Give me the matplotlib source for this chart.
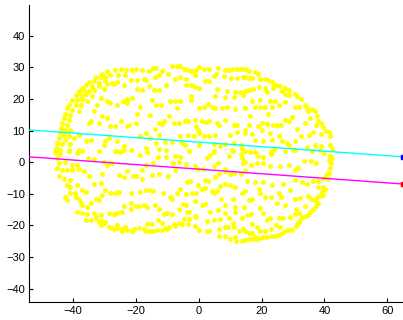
import numpy as np
import matplotlib
matplotlib.use("Agg")
import matplotlib.pyplot as plt

# puntos, por zonas (x, y)
pts_top_left = [
    (-29.1,28.7),(-26.5,29.3),(-24.6,29.6),(-23.1,29.3),(-21.2,29.1),(-19.9,29.4),(-18,29),
    (-30.7,27.9),(-28.1,27.7),(-25.6,27.7),(-23.3,27.5),(-21.7,26.1),(-19.6,26.1),(-17.5,26.4),
    (-32.8,26.8),(-31.2,26.8),(-29.7,26.8),
    (-35,25.4),(-33.4,25.8),(-31.8,25),(-29.9,25.6),(-27.5,25),(-25.9,25.4),(-23.8,24.5),
    (-37.1,23.5),(-36,24.5),(-33.9,24),(-31.8,24),(-29.1,24.7),(-27,24.7),
    (-38.1,22.6),(-36.5,22.9),(-35,22.4),(-33.4,22.9),(-30.2,23.1),(-19.6,23.1),(-18,22.9),
    (-39.2,21.3),(-37.6,21.1),(-36,21.6),(-33.9,20.8),(-31.2,20.3),(-22.8,20.1),(-21.2,20.3),
    (-40.2,19.8),(-38.6,19.8),(-37.1,20.1),(-35.5,19.2),(-29.1,19.2),(-28.1,18.7),(-25.9,18.2),(-24.1,19.2),(-22.8,18.7),
    (-41.3,18.2),(-39.2,18.2),(-37.6,18),(-32.3,18.2),(-18.6,17.3),
    (-41.8,17.1),(-40.2,16.6),(-38.1,16.1),(-33.4,16.3),
    (-42.4,15.2),(-40.8,15),(-30.7,14.5),(-29.1,14),(-19.6,15.2),
    (-42.9,14),(-41.3,13.4),(-35,12.4),(-31.8,12.4),(-28.1,11.6),(-26.5,11.6),(-24.6,12.9),(-22.2,11.8),(-20.1,12.4),
    (-43.4,12.4),(-41.8,11.8),(-34.4,12.9),
    (-43.8,10.8),(-42.4,10.3),(-40.8,10.3),(-22.8,11.3),
    (-44,9.2),(-42.9,8.7),(-41.3,8.2),(-38.1,8.7),
    (-44.5,7.6),(-42.4,7.1),(-39.7,7.6),(-36,6.8),(-34.4,7.1),(-29.7,6.8),(-28.6,7.6),(-25.9,6.6),(-18.6,8.2),
    (-45,6),(-43.4,5.7),(-40.8,5.7),(-30.2,5.5),(-23.8,5),
    (-45.5,4.5),(-44,3.9),(-41.3,3.9),(-38.1,3.9),(-31.8,3.4),(-25.9,3.4),(-23.8,3.9),
    (-45.7,3.1),(-44.5,2.8),
]
pts_top_mid = [
    (-15.8,28.7),(-14.6,29.8),(-13.5,29.8),(-11.8,28.9),(-8.4,30.3),(-6.8,30.3),(-5.8,30.3),(-4.7,29.6),(-3.4,29.3),
    (-2.1,28.7),(-1,29.3),(0.2,30),(1.6,29.6),(3.2,29.6),(6.2,29.8),(8.5,29.3),(9.6,29.3),(10.8,29.6),(12.2,29.6),
    (13.6,29.6),(14.8,29.6),
    (-16.9,26.1),(-13.9,26.8),(-12.7,27.5),(-9.7,27.9),(-7.4,26.4),(-5.8,26.8),(-4.2,26.4),(-1.2,27.5),(1.9,25.8),
    (3.4,25.8),(4.8,27.1),(5.5,27.9),(8,27.1),(10.4,26.6),(12.2,26.6),(14,26.8),
    (-15.8,24),(-14.3,22.9),(-12.7,22.9),(-10.5,24.5),(-4.2,24.5),(-2.6,24.3),(-1.2,23.7),(0.2,23.5),(5.9,23.2),
    (9,22.4),(11.5,22.2),(13,22.2),
    (-15,19.8),(-12.1,18.2),(-13.7,18),(-9,19.2),(-7.4,19.4),(-6.1,19.2),(-2.6,20.8),(-2.6,19.8),(5.3,20.8),
    (8.5,20.5),(11.1,20.5),(14,21.1),
    (-6.8,17.1),(0,17.1),(1.6,17.3),(3,18.4),(4.3,17.6),(5.3,17.1),(7.4,17.1),(9,17.6),(11.5,16.9),(14.8,17.1),
    (-15.6,14.8),(-9.5,14.7),(-11.1,13.1),(-12.7,12.4),(-4.4,13.1),(-3.4,13.1),(-1.2,13.4),(0.9,12.9),(2.4,12.7),
    (3.4,13.1),(5.9,12.4),(6.4,11.8),(8.5,13.4),(11.1,11.8),(12.2,11.8),
    (-13.9,10.6),(-11.6,12.1),(-6.3,12.4),(-7.9,12.4),(-1,11.3),(-0.2,10.3),(1.6,8.2),(3.2,8.2),(5.3,8.5),
    (10.1,8.7),(12.2,9.5),(14.6,10.3),
    (-16.9,9.2),(-15.6,7.6),(-12.5,8.5),(-6.1,8.2),(-3.4,8.5),(-1.6,8.2),(0,9.2),
    (-13.7,6),(-10.8,6.4),(-8.6,6.4),(-5.3,6),(-4.4,5.5),(0,5.5),(4.8,5.7),(6.9,5),(8.3,5.7),(11.1,6),(13.3,5.5),
    (-16.9,4.5),(-12.7,4.3),(-10.5,3.9),(-3.1,3.6),(4.8,3.4),(10.6,3.9),(13.8,4.5),
]
pts_top_right = [
    (15.9,28.9),(17.8,28.5),(19,27.9),(14.8,26.8),(15.9,26.6),(17.1,26.6),(19.6,26.4),(21.1,26.4),(22.2,26.1),
    (23.3,25.4),(24.9,24.5),(25.9,24),(27.5,23.5),(28.6,22.9),
    (14.8,22.4),(16.1,22.9),(17.4,23.2),(19.2,23.7),(21.1,23.5),(21.7,22.2),(23.5,23.5),(24.1,24.3),(26.4,22.6),
    (27.5,21.6),(28.8,21.1),(30.5,21.6),(31.2,20.8),(32.6,20.1),(33.8,18.2),
    (16.9,19.2),(19.6,19.8),(22.7,19.2),(24.3,19.2),(25.4,18),(27.5,19),(30.7,17.3),(31.9,17.3),(34.4,17.1),
    (34.9,16.3),(36,16.9),(37,16.1),
    (14.8,17.1),(18,17.3),(19.6,17.3),(21.1,17.3),(23.3,17.3),
    (16.4,14.5),(22.2,15.2),(27.5,13.4),(28.6,13.1),(29.8,14.2),(33.8,12.4),(35.4,14),(37.6,14.5),(38.1,12.9),
    (16.1,11.8),(19,11.3),(20.1,12.4),(21.7,12.1),(23.5,11.8),(24.9,11.8),(26.2,11.8),(37.2,11.8),(38.9,12.4),(39.7,11),
    (14.8,9.2),(17.1,8.9),(20.1,10.3),(22.7,9.2),(25.4,8.2),(31.2,10.6),(32.6,8.2),(35.1,8.5),(36.5,9.7),(38.9,8.9),
    (40.4,10),(41.3,9.7),(41.8,8.2),
    (18,7.1),(20.6,6.8),(23.3,7.1),(26.4,6.6),(28,6),(28.6,5.3),(30.7,6.8),(34.4,4.7),(37,5.5),(38.9,5),(41.8,5.3),(42.3,4.3),
    (14.8,3.4),(17.8,3.2),(23,3.4),(27.5,3.6),(30.1,3.9),(36,3.4),
]
pts_bot_left = [
    (-45.5,3.1),(-44,2.6),(-41.3,3.4),(-38.6,2.8),(-37.1,3.4),(-35.2,1.3),(-33.4,0.9),(-30.2,0.2),(-28.1,-0.3),
    (-26.5,3.4),(-24.9,3.1),(-21.7,3.7),(-18.6,2.3),
    (-45,1.3),(-44.5,-0.3),(-42.4,0.2),(-40.2,-0.8),(-38.6,-0.8),(-29.1,-0.8),(-27.5,-0.3),
    (-45,-1.9),(-43.4,-2.4),(-41.8,-2.6),(-40.2,-2.4),(-38.1,-2.2),(-36.5,-2.9),(-35,-4.5),(-30.7,-3.7),(-25.4,-4),
    (-23.8,-4.7),(-22.8,-2.9),(-21,-4.5),(-19.9,-4.3),(-18,-2.4),
    (-44.3,-4.5),(-42.9,-5.4),(-41.1,-5.6),(-31.2,-6.6),(-33.4,-6.9),(-18,-5.4),
    (-41.8,-7.2),(-40.8,-7.7),(-38.6,-7.2),(-37.1,-8.8),(-36,-9.3),(-29.7,-8.8),(-28.1,-9.6),(-26.5,-9.8),
    (-25.4,-9.3),(-21.7,-9.8),(-18.6,-9.3),
    (-42.4,-10.9),(-40.8,-9.8),(-39.4,-9.6),(-39.2,-10.9),(-38.1,-11.7),(-32.8,-11.7),(-34.4,-12.8),(-30.7,-10.3),(-31.8,-11.9),
    (-41.8,-11.9),(-37.6,-12.8),(-37.1,-13.5),(-35.5,-14.2),(-23.8,-13.8),(-21.7,-12.8),(-20.1,-14),(-19.1,-13.8),(-17.5,-13.5),
    (-38.6,-15.6),(-37.1,-16.1),(-35.5,-16.4),(-33.4,-16.1),(-32.8,-17.2),(-31.2,-16.7),(-28.6,-16.1),(-27,-16.4),
    (-25.9,-16.1),(-24.4,-15.6),(-21.7,-14.9),
    (-36,-18.3),(-34.4,-18.3),(-32.8,-17.7),(-31.8,-18.8),(-30.9,-18.5),(-29.9,-18.8),(-31.2,-19.8),(-28.6,-20.4),
    (-27.5,-20.9),(-25.9,-20.9),(-25.9,-19.8),(-24.4,-21.2),(-22.8,-21.4),(-21.2,-21.9),(-19.1,-20.9),(-17.5,-21.2),(-23.3,-20.6),
    (-30.2,-19.1),(-27,-21.2),(-24.4,-21.9),(-20.7,-21.2),
]
pts_bot_mid = [
    (-16.4,3.1),(-12.9,1.6),(-10.3,1.8),(-7.6,2),(-5.8,1.6),(-3.1,3.6),(2.7,1.3),(3.7,2.3),(4.8,3.1),(9.6,2),
    (10.8,3.6),(13.3,2.6),(14,-0.1),(13.8,1.3),
    (-16.9,-0.8),(-14.6,-0.3),(-8.2,-0.1),(-6.3,0.2),(-4,-0.5),(-1.2,-1.2),(-0.2,-2.2),(1.3,-2.2),(4.8,-1.2),
    (6.2,-0.3),(8.5,-2.2),(11.1,-3.3),(13.3,-3.7),(14.8,-2.9),
    (-15,-4),(-12.5,-3.7),(-9.7,-4.3),(-7.4,-2.6),(-3.7,-6.4),(-2.9,-5.8),(-0.2,-7.2),(1.9,-5.6),(3,-5.8),
    (5.1,-4.7),(6.6,-3.7),(8.3,-2.9),(10.1,-3.7),
    (-16.9,-8.8),(-15.6,-8.8),(-14.6,-9),(-11.4,-9.8),(-8.6,-11.7),(-9,-10.9),(-6.8,-9.8),(-5.8,-8.5),(-4.2,-10),
    (-2.1,-9.6),(-1,-9.6),(0.9,-8.5),(2.1,-8.2),(4.8,-9.8),(4.3,-9),(5.9,-9),(6.9,-7.5),(8.5,-6.9),(9.8,-7.2),
    (11.7,-7.9),(13.8,-9.6),(14.8,-9),
    (-16.4,-14.2),(-13.9,-13.5),(-12.5,-14.9),(-11.1,-16.4),(-10,-16.1),(-8.6,-16.4),(-6.3,-14.9),(-5.1,-13.2),
    (-4.2,-13.5),(-3.7,-15.6),(-3.1,-15.6),(-1.2,-12.4),(0.9,-13.5),(2.1,-13.2),(3.7,-15.6),(6.2,-15.1),(7.2,-11.7),
    (8.5,-13.5),(8.5,-16.1),(10.8,-11.7),(11.5,-14.2),(11.5,-15.9),(14.3,-14.2),
    (-16.4,-19.5),(-14.8,-19.5),(-12.9,-18.3),(-11.8,-19.1),(-10.8,-20.9),(-9.3,-20.6),(-7.9,-19.5),(-6.3,-19.1),
    (-4.7,-18),(-3.1,-18),(-1.2,-17),(-0.8,-17.4),(2.7,-18.5),(4.8,-18.3),(6.9,-18),(9.6,-17.7),(10.8,-19.1),(13.8,-17.7),
    (-16.9,-21.6),(-15.6,-21.6),(-14.6,-21.9),(-13.2,-21.4),(-11.8,-21.4),(-10,-21.2),(-7.4,-20.2),(-5.3,-19.5),
    (-3.4,-19.5),(-1.2,-20.2),(0,-21.4),(2.7,-21.6),(3.4,-21.9),(6.6,-21.2),(8.5,-20.6),(9.3,-20.6),(11.1,-20.4),
    (12.7,-21.9),(14,-21.2),
    (6.6,-23.3),(8.3,-23.3),(10.1,-24.4),(11.7,-23.7),(13.8,-24.8),(11.9,-24.8),
]
pts_bot_right = [
    (16.4,3.1),(19,2),(20.6,1.6),(23,2.6),(23.8,3.7),(30.7,3.9),(38.6,3.7),(40,2.8),(41.8,2),(42.5,1.3),(41.5,0.7),(42.1,-0.3),
    (14.8,0.2),(16.7,-0.8),(18.5,-0.1),(20.3,-0.1),(22.7,-1.2),(25.9,-1.2),(28.6,-0.8),(33.6,0.5),(35.8,0.5),
    (37.2,-0.3),(31.5,-1.9),(30.5,-2.4),(41.8,-1.9),(41.3,-3.3),(40.4,-4),(41,-5.4),(39.4,-5.1),(37.9,-5.8),
    (15.3,-5.8),(17.8,-6.4),(20.3,-6.4),(23.3,-7.2),(26.7,-6.9),(30.5,-5.6),(33,-6.4),(34.4,-6.9),(36.5,-6.1),
    (39.7,-7.7),(40.2,-8.5),(38.1,-7.9),(39.1,-9.3),
    (19.2,-8.5),(19.5,-9.6),(21.1,-10.9),(23,-10.9),(25.4,-9.8),(26.2,-10.9),(29.1,-8.8),(30.5,-11.7),(32.3,-11.4),
    (34.7,-10.7),(35.8,-11.7),(37.6,-10.9),(38.6,-10.7),(39.7,-10.3),(37,-12.1),(37.9,-12.8),(37.2,-13.8),
    (16.1,-11.9),(17.1,-11.7),(19.6,-14.6),(24.9,-13),(27.5,-13.5),(30.9,-14.9),(33.8,-14),(35.4,-15.6),(36.5,-14.9),
    (34.9,-16.7),(34.1,-17),
    (15.3,-16.7),(16.7,-16.4),(20.3,-16.1),(22.7,-17.7),(21.7,-18.3),(25.6,-17.7),(26.7,-17.7),(29.1,-17.2),
    (30.7,-16.4),(31.9,-16.1),(32.8,-17.2),(32.3,-18.3),(31.2,-19.5),(31.9,-18.8),
    (17.1,-19.5),(18.5,-20.6),(19.6,-21.6),(21.1,-21.9),(23,-21.2),(24.5,-19.8),(25.9,-20.6),(27.3,-21.9),
    (28.3,-21.4),(29.6,-21.4),(30.9,-20.2),
    (14.8,-21.9),(16.1,-22.5),(17.8,-23.7),(19.6,-24.1),(20.6,-23.7),(21.7,-23.7),(23,-23.3),(24.3,-23.3),
    (25.4,-23),(26.4,-22.3),(17.1,-22.3),
    (14.8,-24.6),(15.9,-24.4),(16.9,-24.4),(18.2,-24.4),
]

# rectas (extremos en x y valores en y)
linea_x = [-54, 65]
cyan_y = [10.2, 1.7]
magenta_y = [1.7, -6.9]

xticks = [-40, -20, 0, 20, 40, 60]
yticks = [-40, -30, -20, -10, 0, 10, 20, 30, 40]

plt.rcParams['font.family'] = ['Liberation Sans', 'DejaVu Sans']

fig = plt.figure(figsize=(4.03, 3.2), dpi=100)
ax = fig.add_axes([29 / 403, 18 / 320, 374 / 403, 297 / 320])

todos = np.array(pts_top_left + pts_top_mid + pts_top_right + pts_bot_left + pts_bot_mid + pts_bot_right)
ax.scatter(todos[:, 0], todos[:, 1], s=13, c='#ffff00', linewidths=0, zorder=2)

ax.plot(linea_x, cyan_y, color='#00ffff', lw=1.0, zorder=3)
ax.plot(linea_x, magenta_y, color='#ff00ff', lw=1.0, zorder=3)
ax.plot(linea_x[-1], cyan_y[-1], marker='s', ms=3.5, color='#0000ff', zorder=4)
ax.plot(linea_x[-1], magenta_y[-1], marker='s', ms=3.5, color='#ff0000', zorder=4)

ax.set_xlim(-54, 65)
ax.set_ylim(-44.2, 49.7)
ax.set_xticks(xticks)
ax.set_yticks(yticks)
ax.spines['top'].set_visible(False)
ax.spines['right'].set_visible(False)
ax.tick_params(direction='in', length=3, labelsize=8, pad=3)

fig.savefig('out.png', dpi=100)
